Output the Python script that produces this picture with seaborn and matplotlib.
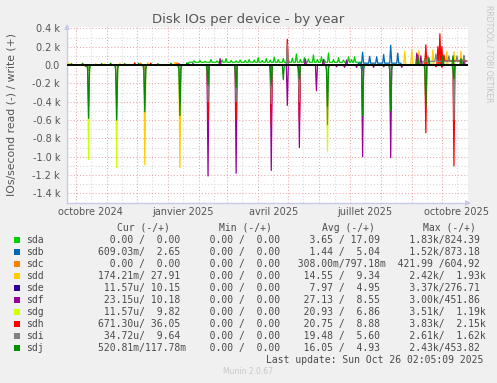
import pandas as pd
import matplotlib
matplotlib.use("Agg")
import matplotlib.pyplot as plt
import matplotlib.transforms as mtransforms
from matplotlib.patches import Rectangle
import seaborn as sns

devices = ["sda", "sdb", "sdc", "sdd", "sde", "sdf", "sdg", "sdh", "sdi", "sdj"]
colors = ["#00CC00", "#0066B3", "#FF8000", "#FFCC00", "#330099",
          "#990099", "#CCFF00", "#FF0000", "#808080", "#008F00"]

days = pd.date_range("2024-09-23", "2025-10-26", freq="D")

# Lesezugriffe (werden unter der Nulllinie gezeichnet)
sda_read = [("2024-10-14", 60), ("2025-04-14", 40)]
sdb_read = [("2025-07-14", 60)]
sdc_read = [("2024-12-09", 50)]
sdd_read = [("2024-12-09", 1090), ("2025-01-13", 1120)]
sde_read = [("2025-02-10", 80)]
sdf_read = [("2025-02-10", 1210), ("2025-03-10", 1180), ("2025-04-14", 1150),
            ("2025-04-30", 440), ("2025-05-12", 900), ("2025-05-29", 280),
            ("2025-07-14", 1000), ("2025-07-08", 25), ("2025-07-25", 25),
            ("2025-08-11", 1010), ("2025-08-04", 20), ("2025-08-22", 25),
            ("2025-06-18", 20), ("2025-06-26", 25)]
sdg_read = [("2024-10-14", 1030), ("2024-11-11", 1120), ("2025-06-09", 940)]
sdh_read = [("2024-10-11", 15), ("2025-02-10", 600), ("2025-03-10", 600),
            ("2025-04-14", 650), ("2025-05-12", 620), ("2025-09-15", 740),
            ("2025-10-13", 1100), ("2025-09-25", 20), ("2025-10-01", 25)]
sdi_read = [("2024-10-14", 450), ("2024-11-11", 450), ("2024-12-09", 400),
            ("2025-01-13", 420), ("2025-02-10", 400), ("2025-03-10", 400),
            ("2025-04-14", 420), ("2025-05-12", 400), ("2025-06-09", 650),
            ("2025-07-14", 500), ("2025-08-11", 450), ("2025-10-13", 600)]
sdj_read = [("2024-10-13", 50), ("2024-10-14", 580), ("2024-10-15", 40),
            ("2024-11-10", 50), ("2024-11-11", 600), ("2024-11-12", 40),
            ("2024-12-08", 50), ("2024-12-09", 510), ("2024-12-10", 40),
            ("2025-01-12", 50), ("2025-01-13", 550), ("2025-01-14", 40),
            ("2025-02-09", 40), ("2025-02-10", 220), ("2025-03-09", 40),
            ("2025-03-10", 250), ("2025-04-13", 40), ("2025-04-14", 220),
            ("2025-04-26", 160), ("2025-05-11", 40), ("2025-05-12", 150),
            ("2025-06-08", 50), ("2025-06-09", 450), ("2025-06-10", 40),
            ("2025-07-13", 50), ("2025-07-14", 550), ("2025-07-15", 40),
            ("2025-08-10", 50), ("2025-08-11", 500), ("2025-08-12", 40),
            ("2025-09-14", 40), ("2025-09-15", 450), ("2025-10-12", 40),
            ("2025-10-13", 150)]

# Schreibzugriffe (über der Nulllinie)
sda_write_level = [("2025-01-22", "2025-07-12", 30)]
sda_write = [("2025-01-27", 45), ("2025-02-02", 50), ("2025-02-07", 40),
             ("2025-02-13", 60), ("2025-02-19", 45), ("2025-02-24", 55),
             ("2025-02-28", 70), ("2025-03-05", 50), ("2025-03-10", 45),
             ("2025-03-14", 55), ("2025-03-19", 50), ("2025-03-23", 60),
             ("2025-03-28", 55), ("2025-04-01", 80), ("2025-04-05", 50),
             ("2025-04-09", 70), ("2025-04-13", 55), ("2025-04-17", 85),
             ("2025-04-21", 60), ("2025-04-26", 70), ("2025-05-01", 60),
             ("2025-05-05", 75), ("2025-05-09", 120), ("2025-05-13", 60),
             ("2025-05-17", 80), ("2025-05-21", 65), ("2025-05-26", 110),
             ("2025-05-30", 60), ("2025-06-03", 90), ("2025-06-06", 55),
             ("2025-06-10", 130), ("2025-06-15", 60), ("2025-06-20", 80),
             ("2025-06-25", 55), ("2025-06-30", 90), ("2025-07-03", 60),
             ("2025-07-06", 90), ("2025-09-14", 70), ("2025-10-22", 60)]
sdb_write_level = [("2025-07-10", "2025-08-21", 20)]
sdb_write = [("2025-07-14", 140), ("2025-07-21", 95), ("2025-07-28", 90),
             ("2025-08-04", 115), ("2025-08-11", 215), ("2025-08-18", 130)]
sdc_write = [("2024-12-05", 20), ("2025-01-10", 25)]
sdd_write = [("2024-09-24", 20), ("2024-10-21", 15), ("2024-11-14", 20),
             ("2024-12-12", 25), ("2025-01-08", 30), ("2025-08-25", 150),
             ("2025-09-01", 165), ("2025-09-08", 160), ("2025-09-15", 150),
             ("2025-09-22", 165), ("2025-09-29", 160), ("2025-10-06", 150),
             ("2025-10-13", 145), ("2025-10-20", 150)]
sde_write = [("2025-01-26", 15)]
sdf_write = [("2025-02-22", 70), ("2025-05-18", 65), ("2025-06-05", 60),
             ("2025-06-28", 55), ("2025-09-06", 130), ("2025-09-10", 100),
             ("2025-09-30", 100), ("2025-10-23", 100)]
sdg_write = [("2024-09-25", 15), ("2024-10-30", 15), ("2025-09-27", 60)]
sdh_write_level = [("2025-10-04", "2025-10-26", 45)]
sdh_write = [("2024-11-29", 25), ("2024-12-15", 20), ("2025-01-12", 15),
             ("2025-04-30", 280), ("2025-09-07", 110), ("2025-09-15", 220),
             ("2025-09-27", 200), ("2025-09-29", 340), ("2025-10-01", 200),
             ("2025-10-03", 110)]
sdi_write_level = [("2025-09-12", "2025-10-26", 40)]
sdi_write = [("2025-04-30", 230), ("2025-09-17", 100), ("2025-09-25", 120),
             ("2025-10-08", 100), ("2025-10-16", 100), ("2025-10-23", 100)]
sdj_write = [("2024-09-27", 15), ("2024-10-08", 20), ("2024-10-27", 15),
             ("2024-11-05", 20), ("2024-11-19", 15), ("2024-12-03", 20),
             ("2024-12-22", 15), ("2025-01-04", 20), ("2025-01-20", 25),
             ("2025-09-07", 100), ("2025-09-18", 80), ("2025-10-02", 100),
             ("2025-10-12", 100), ("2025-10-20", 70)]

# Legendentabelle wie gedruckt
cur_vals = ["  0.00 /  0.00 ", "609.03m/  2.65 ", "  0.00 /  0.00 ", "174.21m/ 27.91 ",
            " 11.57u/ 10.15 ", " 23.15u/ 10.18 ", " 11.57u/  9.82 ", "671.30u/ 36.05 ",
            " 34.72u/  9.64 ", "520.81m/117.78m"]
min_vals = ["  0.00 /  0.00 "] * 10
avg_vals = ["  3.65 / 17.09 ", "  1.44 /  5.04 ", "308.00m/797.18m", " 14.55 /  9.34 ",
            "  7.97 /  4.95 ", " 27.13 /  8.55 ", " 20.93 /  6.86 ", " 20.75 /  8.88 ",
            " 19.48 /  5.60 ", " 16.05 /  4.93 "]
max_vals = ["  1.83k/824.39 ", "  1.52k/873.18 ", "421.99 /604.92 ", "  2.42k/  1.93k",
            "  3.37k/276.71 ", "  3.00k/451.86 ", "  3.51k/  1.19k", "  3.83k/  2.15k",
            "  2.61k/  1.62k", "  2.43k/453.82 "]

reads = dict(zip(devices, [sda_read, sdb_read, sdc_read, sdd_read, sde_read,
                           sdf_read, sdg_read, sdh_read, sdi_read, sdj_read]))
writes = dict(zip(devices, [sda_write, sdb_write, sdc_write, sdd_write, sde_write,
                            sdf_write, sdg_write, sdh_write, sdi_write, sdj_write]))
write_levels = {"sda": sda_write_level, "sdb": sdb_write_level,
                "sdh": sdh_write_level, "sdi": sdi_write_level}


def build(points, levels=(), sign=1):
    s = pd.Series(0.0, index=days)
    for start, end, v in levels:
        s[start:end] = v
    for d, v in points:
        s[pd.Timestamp(d)] = v
    return s * sign


frames = []
for dev in devices:
    r = build(reads[dev], sign=-1)
    w = build(writes[dev], write_levels.get(dev, ()))
    frames.append(pd.DataFrame({"date": days, "device": dev, "read": r.values, "write": w.values}))
df = pd.concat(frames, ignore_index=True)

# --- Plot ---
sns.set_theme(style="white")
plt.rcParams["font.family"] = ["DejaVu Sans"]

W, H = 497, 383
fig = plt.figure(figsize=(W / 100, H / 100), dpi=100, facecolor="#F0F0F0")
ax = fig.add_axes([67 / W, (H - 203) / H, (468 - 67) / W, (203 - 26.5) / H])
ax.set_facecolor("white")

x0, x1 = pd.Timestamp("2024-09-22 12:00"), pd.Timestamp("2025-10-27")
ax.set_xlim(x0, x1)
ax.set_ylim(-1505, 420)

# Gitter im RRDtool-Stil
dot = (0, (1, 2))
for m in pd.date_range("2024-10-01", "2025-10-01", freq="MS"):
    ax.axvline(m, color="#EBA5A5", lw=0.75, ls=dot, zorder=0)
    ax.axvline(m + pd.Timedelta(days=15), color="#D8D8D8", lw=0.75, ls=dot, zorder=0)
for v in range(-1400, 401, 200):
    ax.axhline(v, color="#EBA5A5", lw=0.75, ls=dot, zorder=0)
for v in range(-1300, 401, 200):
    ax.axhline(v, color="#D8D8D8", lw=0.75, ls=dot, zorder=0)

pal = dict(zip(devices, colors))
sns.lineplot(data=df, x="date", y="read", hue="device", hue_order=devices,
             palette=pal, estimator=None, lw=0.9, legend=False, ax=ax, zorder=2)
sns.lineplot(data=df, x="date", y="write", hue="device", hue_order=devices,
             palette=pal, estimator=None, lw=0.9, legend=False, ax=ax, zorder=2)
ax.axhline(0, color="black", lw=1.3, zorder=3)

# Achsen
for side in ["top", "right"]:
    ax.spines[side].set_visible(False)
for side in ["left", "bottom"]:
    ax.spines[side].set_color("#C9C9EE")
    ax.spines[side].set_linewidth(1.0)
ax.plot(1.0, 0, ">", transform=ax.transAxes, clip_on=False, color="#C9C9EE", ms=4, mew=0)
ax.plot(0, 1.0, "^", transform=ax.transAxes, clip_on=False, color="#C9C9EE", ms=4, mew=0)

yt = list(range(-1400, 401, 200))
ax.set_yticks(yt)
ax.set_yticklabels(["0.0" if v == 0 else f"{v / 1000:.1f} k" for v in yt])
xt = pd.to_datetime(["2024-10-01", "2025-01-01", "2025-04-01", "2025-07-01", "2025-10-01"])
ax.set_xticks(xt)
ax.set_xticklabels(["octobre 2024", "janvier 2025", "avril 2025", "juillet 2025", "octobre 2025"])
ax.tick_params(axis="both", length=0, labelsize=7, labelcolor="#555555")
ax.tick_params(axis="y", pad=5)
ax.tick_params(axis="x", pad=3)
offset = mtransforms.ScaledTranslation(15 / 100, 0, fig.dpi_scale_trans)
for lab in ax.get_xticklabels():
    lab.set_transform(lab.get_transform() + offset)
ax.set_xlabel("")
ax.set_ylabel("")


def px(x, y):
    return x / W, 1 - y / H


fig.text(*px(248.5, 20), "Disk IOs per device - by year", ha="center", va="center",
         fontsize=9.5, color="#555555")
fig.text(*px(12, 114), "IOs/second read (-) / write (+)", rotation=90,
         ha="center", va="center", fontsize=7.8, color="#555555")
fig.text(*px(489, 5), "RRDTOOL / TOBI OETIKER", rotation=270, ha="center", va="top",
         fontsize=5.5, color="#C4C4C4")

mono = "DejaVu Sans Mono"
tc = "#4A4A4A"
for hx, h in [(143, "Cur (-/+)"), (245, "Min (-/+)"), (348, "Avg (-/+)"), (449, "Max (-/+)")]:
    fig.text(*px(hx, 228), h, ha="center", va="center", family=mono, fontsize=7, color=tc)
for i, dev in enumerate(devices):
    y = 240 + i * 12
    fig.patches.append(Rectangle(px(14, y + 3), 6 / W, 6 / H, transform=fig.transFigure,
                                 facecolor=colors[i], edgecolor="none"))
    fig.text(*px(26, y), dev, ha="left", va="center", family=mono, fontsize=7, color=tc)
    row = f"{cur_vals[i]}  {min_vals[i]}  {avg_vals[i]}  {max_vals[i]}"
    fig.text(*px(98, y), row, ha="left", va="center", family=mono, fontsize=7, color=tc)
fig.text(*px(483, 360), "Last update: Sun Oct 26 02:05:09 2025", ha="right", va="center",
         family=mono, fontsize=7, color=tc)
fig.text(*px(248, 372), "Munin 2.0.67", ha="center", va="center", fontsize=5.5, color="#C8C8C8")

fig.savefig("out.png", dpi=100, facecolor=fig.get_facecolor())
